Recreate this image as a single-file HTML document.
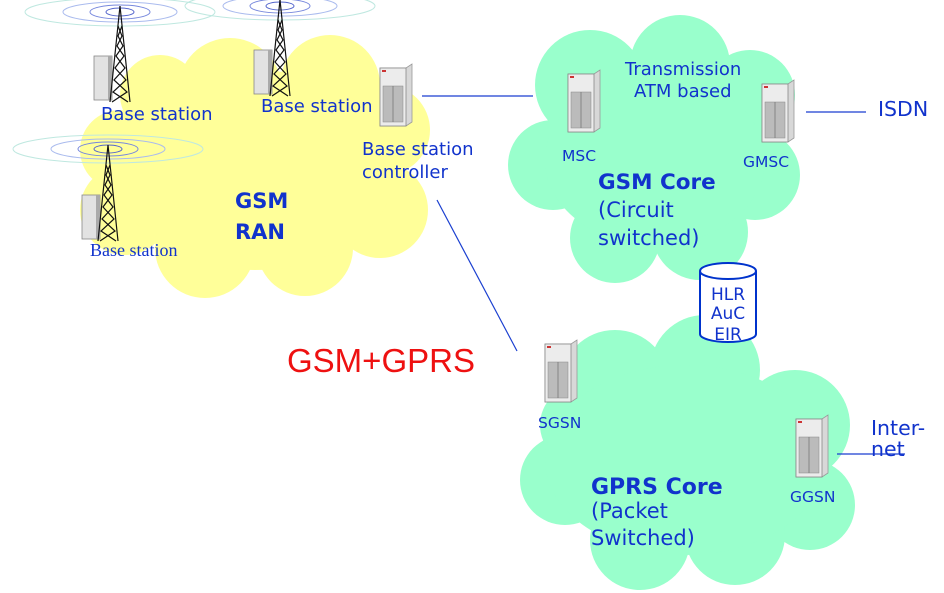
<!DOCTYPE html>
<html><head><meta charset="utf-8"><style>
html,body{margin:0;padding:0;background:#fff;}
svg{display:block;font-family:"DejaVu Sans",sans-serif;}
</style></head><body>
<svg width="944" height="593" viewBox="0 0 944 593" xmlns="http://www.w3.org/2000/svg">
<defs>
<g id="srv">
<polygon points="0,4 26,4 32,0 32,58 26,62 0,62" fill="#d8d8d8" stroke="#999" stroke-width="0.8"/>
<rect x="0" y="4" width="26" height="58" fill="#ececec" stroke="#888" stroke-width="0.8"/>
<rect x="2" y="6" width="4" height="2" fill="#c33"/>
<rect x="3" y="22" width="20" height="36" fill="#bbb" stroke="#888" stroke-width="0.5"/>
<line x1="13" y1="22" x2="13" y2="58" stroke="#777" stroke-width="0.8"/>
</g>
<g id="bts">
<rect x="0" y="10" width="18" height="44" fill="#e2e2e2" stroke="#888" stroke-width="0.8"/>
<rect x="14" y="10" width="4" height="44" fill="#aaa"/>
<g stroke="#111" stroke-width="1.2" fill="none">
<line x1="26" y1="-40" x2="16" y2="56"/><line x1="26" y1="-40" x2="36" y2="56"/>
<path d="M24,-20 L28,-10 L23,0 L30,10 L21,22 L32,34 L19,46 L34,56"/>
<path d="M28,-20 L24,-10 L29,0 L22,10 L31,22 L20,34 L33,46 L18,56"/>
</g>
</g>
<g id="rings" fill="none">
<ellipse cx="0" cy="0" rx="95" ry="14" stroke="#bfe8e0"/>
<ellipse cx="0" cy="0" rx="57" ry="10" stroke="#aabbee"/>
<ellipse cx="0" cy="0" rx="30" ry="7" stroke="#7788dd"/>
<ellipse cx="0" cy="0" rx="14" ry="4" stroke="#5566cc"/>
</g>
</defs>

<g fill="#ffff99">
<circle cx="230" cy="90" r="52"/><circle cx="330" cy="85" r="50"/><circle cx="385" cy="130" r="45"/>
<circle cx="380" cy="210" r="48"/><circle cx="305" cy="248" r="48"/><circle cx="205" cy="248" r="50"/>
<circle cx="125" cy="210" r="45"/><circle cx="120" cy="150" r="40"/><circle cx="160" cy="95" r="40"/>
<ellipse cx="255" cy="170" rx="140" ry="100"/>
</g>
<g fill="#99ffcc">
<circle cx="590" cy="85" r="55"/><circle cx="680" cy="65" r="50"/><circle cx="750" cy="95" r="45"/>
<circle cx="755" cy="175" r="45"/><circle cx="700" cy="232" r="48"/><circle cx="615" cy="238" r="45"/>
<circle cx="553" cy="165" r="45"/><ellipse cx="655" cy="160" rx="110" ry="85"/>
</g>
<g fill="#99ffcc">
<circle cx="615" cy="385" r="55"/><circle cx="705" cy="370" r="55"/><circle cx="795" cy="425" r="55"/>
<circle cx="810" cy="505" r="45"/><circle cx="735" cy="535" r="50"/><circle cx="640" cy="540" r="50"/>
<circle cx="565" cy="480" r="45"/><circle cx="580" cy="425" r="40"/><ellipse cx="685" cy="460" rx="140" ry="95"/>
</g>

<use href="#rings" x="120" y="12"/><use href="#bts" x="94" y="46"/>
<use href="#rings" x="280" y="6"/><use href="#bts" x="254" y="40"/>
<use href="#rings" x="108" y="149"/><use href="#bts" x="82" y="185"/>

<use href="#srv" x="380" y="64"/>
<use href="#srv" x="568" y="70"/>
<use href="#srv" x="762" y="80"/>
<use href="#srv" x="545" y="340"/>
<use href="#srv" x="796" y="415"/>

<g stroke="#1a3fd0" stroke-width="1.2">
<line x1="422" y1="96" x2="533" y2="96"/>
<line x1="437" y1="200" x2="517" y2="351"/>
<line x1="806" y1="112" x2="866" y2="112"/>
<line x1="837" y1="454" x2="905" y2="454"/>
</g>

<g stroke="#0033cc" stroke-width="2" fill="#fff">
<path d="M700,271 L700,334 A28,8 0 0 0 756,334 L756,271"/>
<ellipse cx="728" cy="271" rx="28" ry="8"/>
</g>

<g fill="#1133cc">
<text x="101" y="120" font-size="18">Base station</text>
<text x="261" y="112" font-size="18">Base station</text>
<text x="90" y="256" font-size="18" font-family="Liberation Serif,serif">Base station</text>
<text x="362" y="155" font-size="18">Base station</text>
<text x="362" y="178" font-size="18">controller</text>
<text x="235" y="208" font-size="21" font-weight="bold">GSM</text>
<text x="235" y="239" font-size="21" font-weight="bold">RAN</text>
<text x="625" y="75" font-size="18">Transmission</text>
<text x="634" y="97" font-size="18">ATM based</text>
<text x="562" y="161" font-size="15.5">MSC</text>
<text x="743" y="167" font-size="15.5">GMSC</text>
<text x="878" y="116" font-size="20.5">ISDN</text>
<text x="598" y="189" font-size="21.5" font-weight="bold">GSM Core</text>
<text x="598" y="217" font-size="21">(Circuit</text>
<text x="598" y="245" font-size="21">switched)</text>
<text x="728" y="300" font-size="17" text-anchor="middle">HLR</text>
<text x="728" y="319" font-size="17" text-anchor="middle">AuC</text>
<text x="728" y="340" font-size="17" text-anchor="middle">EIR</text>
<text x="538" y="428" font-size="15.5">SGSN</text>
<text x="790" y="502" font-size="15.5">GGSN</text>
<text x="871" y="435" font-size="20.5">Inter-</text>
<text x="871" y="456" font-size="20.5">net</text>
<text x="591" y="494" font-size="22" font-weight="bold">GPRS Core</text>
<text x="591" y="518" font-size="21">(Packet</text>
<text x="591" y="545" font-size="21">Switched)</text>
</g>
<text x="287" y="372" font-size="33" fill="#ee1111" font-family="Liberation Sans,sans-serif">GSM+GPRS</text>
</svg>
</body></html>
